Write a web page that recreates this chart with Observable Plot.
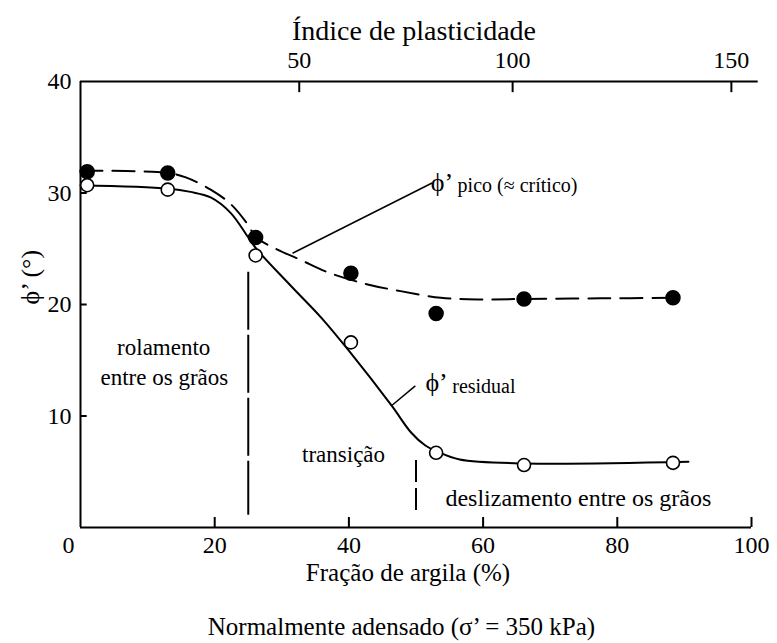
<!DOCTYPE html>
<html>
<head>
<meta charset="utf-8">
<script src="https://cdn.jsdelivr.net/npm/d3@7"></script>
<script src="https://cdn.jsdelivr.net/npm/@observablehq/plot@0.6"></script>
<style>
  body { margin: 0; background: #fff; }
  #caption { width: 777px; box-sizing: border-box; padding-left: 26px; margin-top: 12px; line-height: 30px; text-align: center; font-size: 25px; color: #000; }
  body, svg text { font-family: "Liberation Serif", "Noto Serif", "DejaVu Serif", "Times New Roman", Times, serif !important; }
</style>
</head>
<body>
<div id="chart"></div>
<div id="caption">Normalmente adensado (σ’ = 350 kPa)</div>
<script>
// Sample values
const clayPct      = [1.0, 13.0, 26.1, 40.3, 53.0, 66.1, 88.3];
const phiPeak      = [31.9, 31.8, 26.0, 22.8, 19.2, 20.5, 20.6];
const phiResidual  = [30.7, 30.3, 24.4, 16.6, 6.7, 5.6, 5.8];

// Hand-drawn trend curves
const peakCurveClay = [0, 13.0, 15.7, 19.4, 22.4, 24.9, 26.2, 29.1, 32.8, 36.8, 42.8, 47.7, 53.7, 59.6, 66.0, 77.5, 88.4];
const peakCurvePhi  = [32.0, 31.8, 31.4, 30.3, 29.0, 27.2, 26.0, 25.0, 24.0, 22.9, 21.8, 21.2, 20.6, 20.45, 20.5, 20.55, 20.6];
const residualCurveClay = [0, 13.0, 16.4, 19.4, 22.4, 24.9, 26.2, 31.3, 35.9, 40.2, 46.4, 49.3, 51.4, 53.2, 56.5, 66.3, 90.6];
const residualCurvePhi  = [30.7, 30.4, 30.1, 29.6, 28.2, 26.1, 25.0, 21.7, 18.8, 15.7, 10.9, 8.5, 7.35, 6.8, 6.1, 5.75, 5.9];

// Regime boundaries (clay fraction, %) and their drawn extents
const boundaryClay = [25, 50];
const boundaryTop  = [22.9, 6.0];
const boundaryBottom = [1.1, 1.2];

// Axes
const clayTicks = [0, 20, 40, 60, 80, 100];
const phiTicks = [10, 20, 30, 40];
const plasticityTicks = [50, 100, 150];
const plasticityTickClay = [32.6, 64.4, 97.0];

const points = clayPct.map((c, i) => ({clay: c, peak: phiPeak[i], residual: phiResidual[i]}));
const peakCurve = peakCurveClay.map((c, i) => ({clay: c, phi: peakCurvePhi[i]}));
const residualCurve = residualCurveClay.map((c, i) => ({clay: c, phi: residualCurvePhi[i]}));
const boundaries = boundaryClay.map((c, i) => ({clay: c, top: boundaryTop[i], bottom: boundaryBottom[i]}));
const piLabel = new Map(plasticityTickClay.map((c, i) => [c, String(plasticityTicks[i])]));

const chart = Plot.plot({
  width: 777,
  height: 600,
  marginTop: 81,
  marginBottom: 73,
  marginLeft: 80,
  marginRight: 26,
  x: {domain: [0, 100]},
  y: {domain: [0, 40]},
  style: {fontSize: "24px", color: "#000", background: "#fff", overflow: "visible"},
  marks: [
    // frame lines
    Plot.ruleX([0], {stroke: "#000", strokeWidth: 2}),
    Plot.ruleY([0], {x1: 0, x2: 100, stroke: "#000", strokeWidth: 2}),
    Plot.ruleY([40], {x1: 0, x2: 101, stroke: "#000", strokeWidth: 2}),
    // inward ticks
    Plot.ruleX(clayTicks.slice(1), {x: d => d, y1: 0, y2: 0.9, stroke: "#000", strokeWidth: 2}),
    Plot.ruleY(phiTicks.slice(0, 3), {y: d => d, x1: 0, x2: 1.0, stroke: "#000", strokeWidth: 2}),
    Plot.ruleX(plasticityTickClay, {x: d => d, y1: 40, y2: 39.0, stroke: "#000", strokeWidth: 2}),
    // tick labels
    Plot.axisX({anchor: "bottom", ticks: clayTicks.slice(1), tickSize: 0, tickPadding: 8, label: null, fontSize: 24}),
    Plot.text(clayTicks.slice(0, 1), {x: d => d, y: 0, dx: -12, dy: 18, text: d => String(d), fontSize: 24}),
    Plot.axisY({anchor: "left", ticks: phiTicks, tickSize: 0, tickPadding: 9, label: null, fontSize: 24}),
    Plot.axisX({anchor: "top", ticks: plasticityTickClay, tickFormat: d => piLabel.get(d), tickSize: 0, tickPadding: 14, label: null, fontSize: 24}),
    // axis titles
    Plot.text(["Índice de plasticidade"], {frameAnchor: "top", dy: -61, dx: -2, fontSize: 28}),
    Plot.text(["Fração de argila (%)"], {frameAnchor: "bottom", dy: 53, dx: -8, fontSize: 25}),
    Plot.text(["ϕ’ (°)"], {frameAnchor: "left", dx: -50, rotate: -90, fontSize: 26}),
    // regime boundaries
    Plot.ruleX(boundaries.slice(0, 1), {x: "clay", y1: "top", y2: "bottom", stroke: "#000", strokeWidth: 2, strokeDasharray: "58,5"}),
    Plot.ruleX(boundaries.slice(1), {x: "clay", y1: "top", y2: "bottom", stroke: "#000", strokeWidth: 2, strokeDasharray: "22,6"}),
    // curves
    Plot.line(peakCurve, {x: "clay", y: "phi", curve: "catmull-rom", stroke: "#000", strokeWidth: 2, strokeDasharray: "22,10"}),
    Plot.line(residualCurve, {x: "clay", y: "phi", curve: "catmull-rom", stroke: "#000", strokeWidth: 2}),
    // points
    Plot.dot(points, {x: "clay", y: "peak", r: 7, fill: "#000", stroke: "#000"}),
    Plot.dot(points, {x: "clay", y: "residual", r: 6.5, fill: "#fff", stroke: "#000", strokeWidth: 1.6}),
    // leader lines
    Plot.link([{x1: 31.6, y1: 24.6, x2: 52.4, y2: 30.9}], {x1: "x1", y1: "y1", x2: "x2", y2: "y2", stroke: "#000", strokeWidth: 1.5}),
    Plot.link([{x1: 46.3, y1: 10.9, x2: 49.9, y2: 12.7}], {x1: "x1", y1: "y1", x2: "x2", y2: "y2", stroke: "#000", strokeWidth: 1.5}),
    // curve labels
    Plot.text(["ϕ’"], {x: 52.2, y: 30.9, textAnchor: "start", fontSize: 26}),
    Plot.text(["pico (≈ crítico)"], {x: 56.2, y: 30.7, textAnchor: "start", fontSize: 20}),
    Plot.text(["ϕ’"], {x: 51.4, y: 12.95, textAnchor: "start", fontSize: 26}),
    Plot.text(["residual"], {x: 55.4, y: 12.6, textAnchor: "start", fontSize: 20}),
    // regime labels
    Plot.text(["rolamento"], {x: 12.4, y: 16.1, fontSize: 23}),
    Plot.text(["entre os grãos"], {x: 12.5, y: 13.4, fontSize: 23}),
    Plot.text(["transição"], {x: 39.2, y: 6.55, fontSize: 23}),
    Plot.text(["deslizamento entre os grãos"], {x: 74.2, y: 2.6, fontSize: 24})
  ]
});
document.getElementById("chart").appendChild(chart);
</script>
</body>
</html>
